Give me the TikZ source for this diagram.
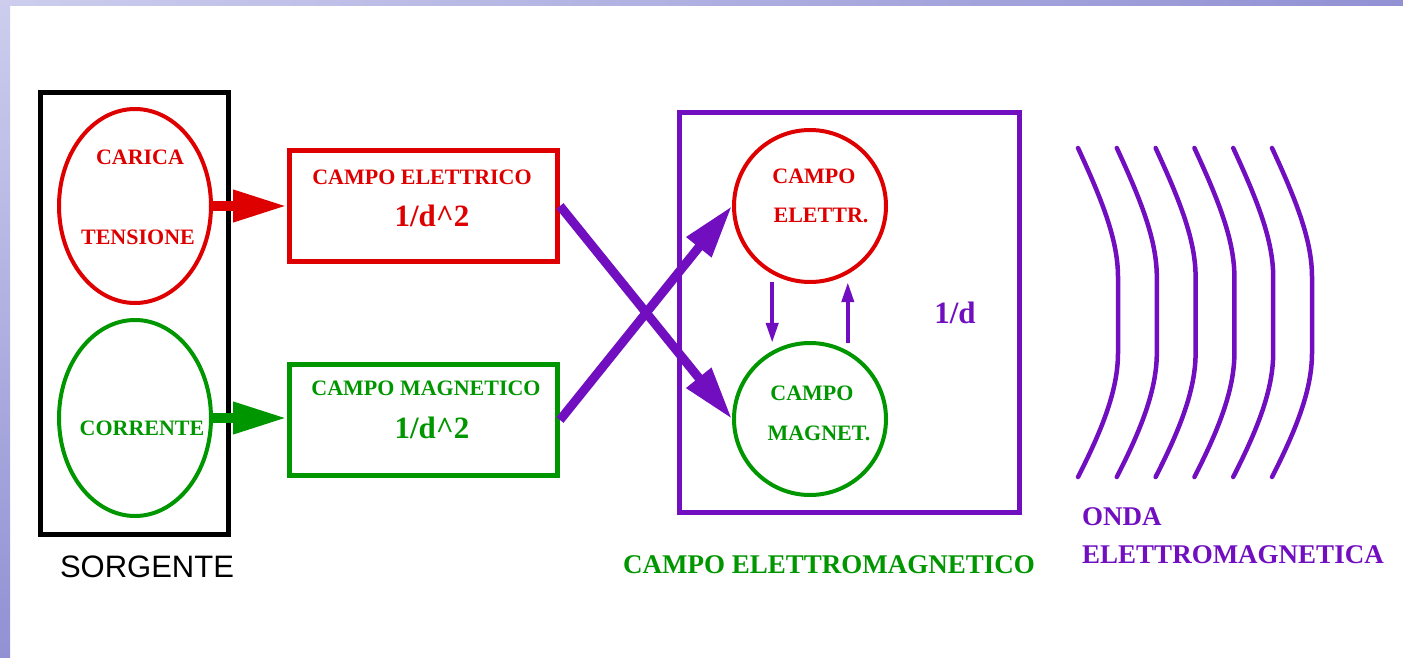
\documentclass[tikz,border=0pt]{standalone}
\usepackage{fontspec}
\setmainfont{Liberation Serif}
\newfontfamily\sorgfont{Liberation Sans}
\usetikzlibrary{shapes.geometric,arrows.meta,positioning}

\definecolor{rosso}{RGB}{222,0,0}
\definecolor{verde}{RGB}{0,150,0}
\definecolor{viola}{RGB}{112,14,192}
\definecolor{barrachiara}{RGB}{205,205,238}
\definecolor{barrascura}{RGB}{145,145,212}

\tikzset{
  campo/.style={draw, line width=5pt, minimum width=268pt, minimum height=111pt, inner sep=0pt},
  bolla/.style={draw, ellipse, line width=4pt, inner sep=0pt},
  cerchio/.style={draw, circle, line width=4pt, minimum size=152pt, inner sep=0pt},
  scritta/.style={inner sep=0pt, font=\fontsize{22}{26}\selectfont\bfseries},
  formula/.style={inner sep=0pt, font=\fontsize{31}{35}\selectfont\bfseries},
  freccia/.style={line width=10pt, -{Triangle[length=54pt,width=30pt]}},
  incrocio/.style={viola, line width=9pt, -{Triangle[length=53pt,width=30pt]}},
  scambio/.style={viola, line width=4pt, -{Triangle[length=20pt,width=12pt]}, shorten <=8pt, shorten >=8pt},
  onda/.style={viola, line width=4.5pt, line cap=round}
}

\begin{document}
\begin{tikzpicture}[x=1pt,y=-1pt]
\useasboundingbox (0,0) rectangle (1403,658);
% cornice
\shade[left color=barrachiara, right color=barrascura] (0,0) rectangle (1403,6);
\shade[top color=barrachiara, bottom color=barrascura] (0,0) rectangle (10,658);

% sorgente
\node[draw, line width=5pt, minimum width=188pt, minimum height=442pt, inner sep=0pt] (sorg) at (134.5,313.5) {};
\node[inner sep=0pt, font=\sorgfont\fontsize{31}{35}\selectfont] (sorgT) at (147,567) {SORGENTE};
\node[bolla, rosso, minimum width=152pt, minimum height=194pt] (car) at (135,206) {};
\node[scritta, rosso] (carT) at (140,157) {CARICA};
\node[scritta, rosso] (tenT) at (138,237) {TENSIONE};
\node[bolla, verde, minimum width=152pt, minimum height=196pt] (cor) at (135,418) {};
\node[scritta, verde] (corT) at (142,428) {CORRENTE};

% campi 1/d^2
\node[campo, rosso] (ee) at (423.5,206) {};
\node[scritta, rosso] (eeT) at (422,177) {CAMPO ELETTRICO};
\node[formula, rosso] (eeF) at (432,216) {1/d\textasciicircum2};
\node[campo, verde] (me) at (423.5,420) {};
\node[scritta, verde] (meT) at (426,388) {CAMPO MAGNETICO};
\node[formula, verde] (meF) at (432,428) {1/d\textasciicircum2};

% campo elettromagnetico
\node[draw, viola, line width=5pt, minimum width=340pt, minimum height=400pt, inner sep=0pt] (em) at (849.5,312.5) {};
\node[cerchio, rosso] (ce) at (810,206) {};
\node[scritta, rosso] (ceT1) at (814,176) {CAMPO};
\node[scritta, rosso] (ceT2) at (821,215) {ELETTR.};
\node[cerchio, verde] (cm) at (810,419) {};
\node[scritta, verde] (cmT1) at (812,393) {CAMPO};
\node[scritta, verde] (cmT2) at (819,433) {MAGNET.};
\node[formula, viola] (emF) at (955,313) {1/d};
\node[scritta, verde, font=\fontsize{27}{31}\selectfont\bfseries] (emT) at (829,565) {CAMPO ELETTROMAGNETICO};

% frecce
\draw[freccia, rosso] (car.east) -- (car.east -| ee.west);
\draw[freccia, verde] (cor.east) -- (cor.east -| me.west);
\draw[incrocio] (ee.east) -- (cm.west);
\draw[incrocio] (me.east) -- (ce.west);
\draw[scambio] (ce.241) -- (cm.119);
\draw[scambio] (cm.61) -- (ce.299);

% onda
\foreach \k in {0,...,5}{
  \pgfmathsetmacro{\x}{1078+38.8*\k}
  \draw[onda] (\x,148) .. controls (\x+24,200) and (\x+40,240) .. (\x+40,277)
    -- (\x+40,353) .. controls (\x+40,390) and (\x+24,430) .. (\x,477);
}
\node[anchor=west, align=left, inner sep=0pt, viola, font=\fontsize{27}{38}\selectfont\bfseries] (ondaT) at (1082,536) {ONDA\\ELETTROMAGNETICA};
\end{tikzpicture}
\end{document}
